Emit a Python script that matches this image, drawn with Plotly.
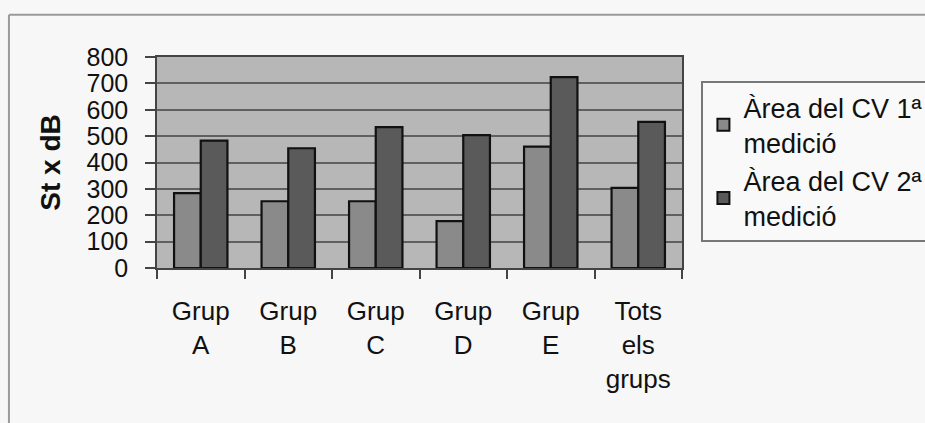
import plotly.graph_objects as go

categories = ["Grup<br>A", "Grup<br>B", "Grup<br>C", "Grup<br>D", "Grup<br>E", "Tots<br>els<br>grups"]
series_1_name = "Àrea del CV 1ª<br>medició"
series_2_name = "Àrea del CV 2ª<br>medició"
series_1 = [284, 253, 253, 178, 460, 304]
series_2 = [483, 454, 534, 504, 724, 554]
y_ticks = [0, 100, 200, 300, 400, 500, 600, 700, 800]

FONT = "Arial, 'Liberation Sans', sans-serif"

fig = go.Figure()
fig.add_trace(go.Bar(
    x=categories, y=series_1, name=series_1_name,
    marker=dict(color="#8a8a8a", line=dict(color="#111111", width=2.2)),
))
fig.add_trace(go.Bar(
    x=categories, y=series_2, name=series_2_name,
    marker=dict(color="#5a5a5a", line=dict(color="#111111", width=2.2)),
))

fig.update_layout(
    width=925, height=423,
    margin=dict(l=157, r=243, t=57, b=155, autoexpand=False),
    paper_bgcolor="#f7f7f7",
    plot_bgcolor="#b7b7b7",
    barmode="group",
    bargap=0.39,
    bargroupgap=0,
    font=dict(family=FONT, color="#111111"),
    showlegend=True,
    legend=dict(
        x=1.037, y=0.885, xanchor="left", yanchor="top",
        bgcolor="#f9f9f9", bordercolor="#777777", borderwidth=2,
        font=dict(size=27, family=FONT, color="#111111"),
        tracegroupgap=2, itemsizing="constant", itemwidth=30,
    ),
    xaxis=dict(
        type="category",
        showgrid=False,
        tickson="boundaries",
        ticks="outside", ticklen=9, tickcolor="#444444", tickwidth=1.5,
        showline=True, linecolor="#444444", linewidth=1.5, mirror=True,
        tickfont=dict(size=26, family=FONT, color="#111111"),
        ticklabelstandoff=19,
    ),
    yaxis=dict(
        range=[0, 800],
        tickvals=y_ticks,
        ticktext=[str(v) for v in y_ticks],
        showgrid=True, gridcolor="#606060", gridwidth=1.5,
        ticks="outside", ticklen=10, tickcolor="#444444", tickwidth=1.5,
        showline=True, linecolor="#444444", linewidth=1.5, mirror=True,
        tickfont=dict(size=25, family=FONT, color="#111111"),
        ticklabelstandoff=12,
        title=dict(text="<b>St x dB</b>", font=dict(size=28, family=FONT, color="#111111"), standoff=18),
        zeroline=False,
    ),
    shapes=[
        dict(type="line", xref="paper", yref="paper",
             x0=-0.282, x1=2.0, y0=1.2, y1=1.2,
             line=dict(color="#9a9a9a", width=2), layer="below"),
        dict(type="line", xref="paper", yref="paper",
             x0=-0.282, x1=-0.282, y0=-2.0, y1=1.2,
             line=dict(color="#9a9a9a", width=2), layer="below"),
    ],
)

fig.write_html(
    "out.html",
    config={"displayModeBar": False},
    post_script="document.body.style.margin='0';document.body.style.overflow='hidden';",
)
